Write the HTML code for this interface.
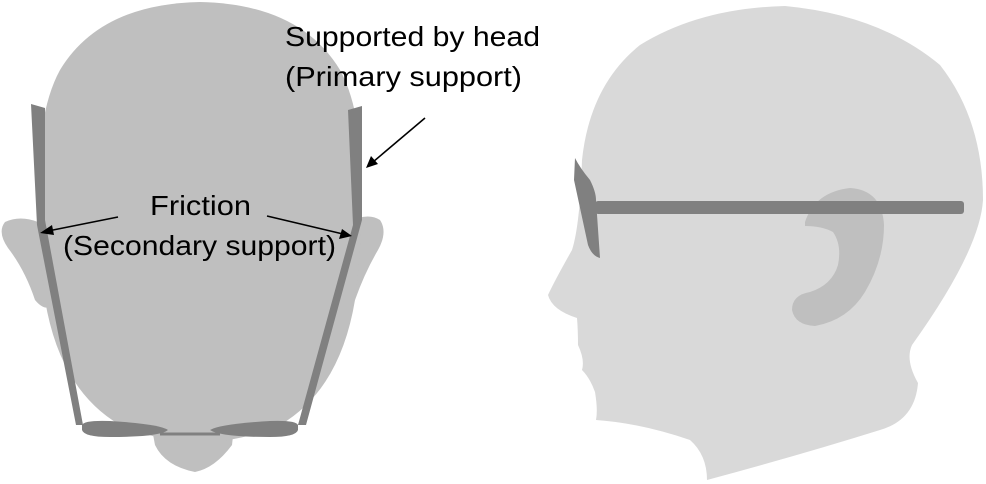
<!DOCTYPE html>
<html><head><style>body{margin:0;background:#fff}svg{display:block}</style></head><body>
<svg width="986" height="484" viewBox="0 0 986 484" xmlns="http://www.w3.org/2000/svg">
<path d="M150,418 L235,418 L232,445 Q215,468 195,472 Q165,466 155,445 Z" fill="#bfbfbf"/>
<path d="M38,222 Q20,215 5,222 Q-3,232 8,248 Q25,270 35,300 Q45,312 52,305 Z" fill="#bfbfbf"/>
<path d="M348,222 Q368,212 380,220 Q388,232 378,250 Q365,272 355,300 Q345,310 340,300 Z" fill="#bfbfbf"/>
<path d="M200,2 Q100,4 60,70 Q38,110 38,190 Q38,250 45,300 Q60,390 120,425 Q160,442 200,442 Q240,442 280,425 Q340,390 355,300 Q362,250 362,190 Q362,110 340,70 Q300,4 200,2 Z" fill="#bfbfbf"/>
<polygon points="31,104 45,108 45,220 83,425 76,425 37,225" fill="#808080"/>
<polygon points="348,110 362,106 362,220 306,425 298,425 353,225" fill="#808080"/>
<path d="M82,425 Q84,420 110,421 Q160,424 168,430 Q160,437 110,437 Q84,437 82,430 Z" fill="#808080"/>
<path d="M298,425 Q296,420 270,421 Q220,424 210,430 Q220,437 270,437 Q296,437 298,430 Z" fill="#808080"/>
<line x1="160" y1="434" x2="220" y2="434" stroke="#808080" stroke-width="3"/>
<g stroke="#000" stroke-width="1.6" fill="#000">
<line x1="118" y1="217" x2="48" y2="231"/><polygon points="40,233 52,225 54,235" stroke="none"/>
<line x1="267" y1="216" x2="343" y2="234"/><polygon points="352,236 339,239 342,229" stroke="none"/>
<line x1="425" y1="118" x2="373" y2="162"/><polygon points="366,168 371,156 378,164" stroke="none"/>
</g>
<g font-family="Liberation Sans, sans-serif" font-size="28" fill="#000">
<text x="285" y="46" textLength="255" lengthAdjust="spacingAndGlyphs">Supported by head</text>
<text x="285" y="86" textLength="237" lengthAdjust="spacingAndGlyphs">(Primary support)</text>
<text x="150" y="215" textLength="101" lengthAdjust="spacingAndGlyphs">Friction</text>
<text x="63" y="255" textLength="273" lengthAdjust="spacingAndGlyphs">(Secondary support)</text>
</g>
<path d="M785,6 Q700,8 640,45 Q590,85 582,160 Q580,225 572,250 Q555,280 548,295 Q552,310 577,318 Q578,330 578,345 Q585,360 582,370 Q590,378 595,392 Q598,410 596,420 Q640,423 690,440 Q707,455 707,480 Q800,455 880,430 Q915,420 918,383 Q905,360 912,345 Q980,250 983,200 Q983,120 940,65 Q880,15 785,6 Z" fill="#d9d9d9"/>
<path d="M805,222 Q815,192 850,188 Q882,190 884,225 Q884,260 865,292 Q848,320 815,326 Q795,325 792,310 Q792,295 810,292 Q832,285 838,265 Q842,245 833,232 Q822,226 805,226 Z" fill="#bfbfbf"/>
<rect x="595" y="201" width="369" height="13" rx="3" fill="#808080"/>
<path d="M575,158 Q580,168 590,180 Q596,192 596,200 L600,258 Q592,256 588,245 L574,180 Z" fill="#808080"/>
</svg>
</body></html>
